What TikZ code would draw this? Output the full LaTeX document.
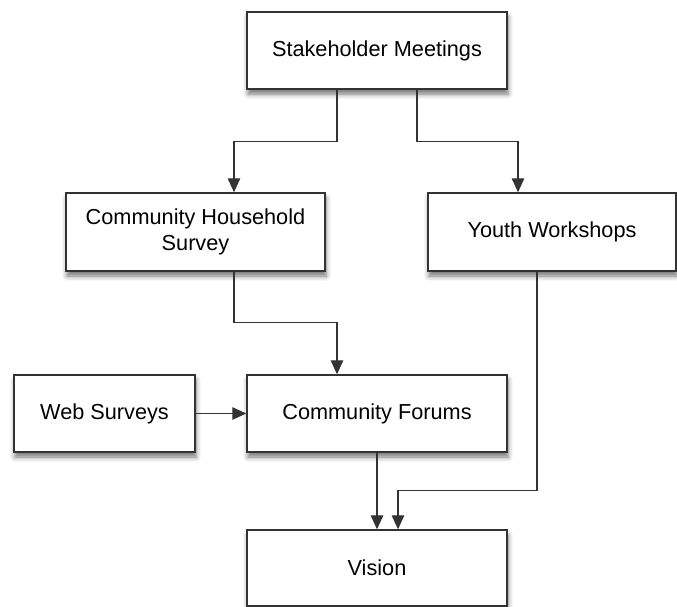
\documentclass[tikz,border=0pt]{standalone}
\usepackage{fontspec}
\setmainfont{Liberation Sans}
\usetikzlibrary{arrows.meta,shadows.blur}

\begin{document}
\begin{tikzpicture}[x=1pt,y=-1pt,
    box/.style={draw=black!80,line width=1.4pt,fill=white,align=center,
      inner sep=0pt,font=\fontsize{21.7}{25.5}\selectfont,
      blur shadow={shadow xshift=1pt,shadow yshift=-5pt,shadow blur radius=5pt,shadow opacity=55}},
    arr/.style={draw=black!80,line width=1.2pt,-{Triangle[width=12.5pt,length=14pt]}}]
                \useasboundingbox (0,0) rectangle (677,607);
                \node[box,minimum width=260pt,minimum height=77pt] (stake) at (377,50.5) {Stakeholder Meetings};
                \node[box,minimum width=259pt,minimum height=78pt] (chs) at (195.5,232) {Community Household\\Survey};
                \node[box,minimum width=248pt,minimum height=78pt] (youth) at (552,232) {Youth Workshops};
                \node[box,minimum width=181pt,minimum height=77pt] (web) at (104.5,413.5) {Web Surveys};
                \node[box,minimum width=260pt,minimum height=77pt] (forums) at (377,413.5) {Community Forums};
                \node[box,minimum width=260pt,minimum height=76pt] (vision) at (377,568) {Vision};
                \draw[arr] ([xshift=-40pt]stake.south) -- ++(0,52) -| ([xshift=38.5pt]chs.north);
                \draw[arr] ([xshift=40pt]stake.south) -- ++(0,52) -| ([xshift=-34pt]youth.north);
                \draw[arr] ([xshift=38.5pt]chs.south) -- ++(0,51) -| ([xshift=-40pt]forums.north);
                \draw[arr] (web) -- (forums);
                \draw[arr] (forums) -- (vision);
                \draw[arr] ([xshift=-15pt]youth.south) -- ++(0,219) -| ([xshift=21pt]vision.north);
            \end{tikzpicture}
\end{document}
